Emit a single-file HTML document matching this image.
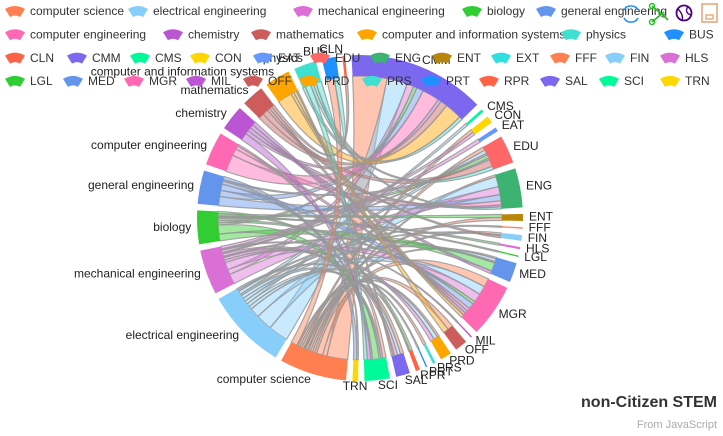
<!DOCTYPE html>
<html><head><meta charset="utf-8">
<style>
html,body{margin:0;padding:0;background:#fff;}
#wrap{position:relative;width:723px;height:436px;overflow:hidden;font-family:"Liberation Sans",sans-serif;}
svg{position:absolute;left:0;top:0;}
</style></head>
<body>
<div id="wrap">
<svg id="chart" width="723" height="436"></svg>
</div>
<script>
// ---- data ----
const categories = ["CMM","CMS","CON","EAT","EDU","ENG","ENT","FFF","FIN","HLS","LGL","MED","MGR","MIL","OFF","PRD","PRS","PRT","RPR","SAL","SCI","TRN","computer science","electrical engineering","mechanical engineering","biology","general engineering","computer engineering","chemistry","mathematics","computer and information systems","physics","BUS","CLN"];
const arcSizes = [49,1,2.5,1.5,10,14,2.5,0.5,2,0.8,0.5,7,19,0.5,4.5,4,1,0.5,1.5,5,9,2,24,29,16,12,12,12,9,8,9,8,5,1];
const flowSource = ["computer science","computer science","computer science","computer science","computer science","computer science","computer science","computer science","computer science","computer science","computer science",
 "electrical engineering","electrical engineering","electrical engineering","electrical engineering","electrical engineering","electrical engineering","electrical engineering","electrical engineering","electrical engineering",
 "mechanical engineering","mechanical engineering","mechanical engineering","mechanical engineering","mechanical engineering","mechanical engineering","mechanical engineering","mechanical engineering",
 "biology","biology","biology","biology","biology","biology","biology",
 "general engineering","general engineering","general engineering","general engineering","general engineering",
 "computer engineering","computer engineering","computer engineering","computer engineering",
 "chemistry","chemistry","chemistry","chemistry","chemistry",
 "mathematics","mathematics","mathematics","mathematics",
 "computer and information systems","computer and information systems","computer and information systems","computer and information systems",
 "physics","physics","physics","physics",
 "computer science","electrical engineering","mechanical engineering","biology","computer science","electrical engineering","mechanical engineering","computer science","electrical engineering","biology","computer science","mechanical engineering","general engineering","computer science","physics","mathematics"];
const flowTarget = ["CMM","SCI","MGR","ENG","EDU","FIN","SAL","TRN","OFF","PRD","MED",
 "CMM","ENG","MGR","PRD","SAL","EDU","MED","SCI","FIN",
 "ENG","CMM","MGR","PRD","SAL","MED","SCI","EDU",
 "MED","SCI","CMM","MGR","EDU","HLS","LGL",
 "ENG","CMM","MGR","SCI","EDU",
 "CMM","ENG","MGR","SAL",
 "SCI","CMM","ENG","MED","MGR",
 "CMM","EDU","FIN","MGR",
 "CMM","MGR","OFF","SAL",
 "CMM","SCI","ENG","EDU",
 "CON","CMS","EAT","ENT","ENT","FFF","MIL","PRS","PRT","RPR","RPR","CON","TRN","BUS","BUS","CLN"];
const flowValue = [10,2,3,1,1,1,1,0.5,1,0.5,0.5,
 6,5,3,1,1,1,1,1,0.5,
 4,2,3,1,1,0.5,1,0.5,
 3,4,1,1,1,0.5,0.5,
 3,2,2,1,0.5,
 5,2,1,0.5,
 2,1,1,1,1,
 2,2,1,1,
 5,1,1,0.5,
 1,2,1,1,
 1,1,1,1,1,0.5,0.5,1,0.5,1,0.5,1,1,3,2,1];
const colors = ['#ff7f50','#87cefa','#da70d6','#32cd32','#6495ed','#ff69b4','#ba55d3','#cd5c5c','#ffa500','#40e0d0','#1e90ff','#ff6347','#7b68ee','#00fa9a','#ffd700','#6699FF','#ff6666','#3cb371','#b8860b','#30e0e0'];
const legendNames = ["computer science","electrical engineering","mechanical engineering","biology","general engineering","computer engineering","chemistry","mathematics","computer and information systems","physics","BUS","CLN","CMM","CMS","CON","EAT","EDU","ENG","ENT","EXT","FFF","FIN","HLS","LGL","MED","MGR","MIL","OFF","PRD","PRS","PRT","RPR","SAL","SCI","TRN"];

// ---- layout ----
const NS="http://www.w3.org/2000/svg";
const svg=document.getElementById('chart');
const cx=360, cy=218, R=163, r=142, startAngle=-3;
function el(tag,attrs,parent){const e=document.createElementNS(NS,tag);for(const k in attrs)e.setAttribute(k,attrs[k]);(parent||svg).appendChild(e);return e;}
function pt(a,rad){const t=a*Math.PI/180;return [cx+rad*Math.sin(t),cy-rad*Math.cos(t)];}
function colorOf(name){return colors[legendNames.indexOf(name)%colors.length];}

const total=arcSizes.reduce((a,b)=>a+b,0);
const gap=(360-total)/categories.length;
const arcs={};
let cur=startAngle;
categories.forEach((c,i)=>{arcs[c]={a0:cur,a1:cur+arcSizes[i],pos:cur};cur+=arcSizes[i]+gap;});
const tot={};
flowValue.forEach((v,i)=>{tot[flowSource[i]]=(tot[flowSource[i]]||0)+v;tot[flowTarget[i]]=(tot[flowTarget[i]]||0)+v;});
function take(name,v){const a=arcs[name];const span=a.a1-a.a0;const w=span*v/tot[name];const s=a.pos;a.pos+=w;return [s,s+w];}

const gChords=el('g',{});


flowValue.forEach((v,i)=>{
  const s=take(flowSource[i],v), t=take(flowTarget[i],v);
  const p0=pt(s[0],r),p1=pt(s[1],r),q0=pt(t[0],r),q1=pt(t[1],r);
  const d=`M${p0[0]},${p0[1]} A${r},${r} 0 0 1 ${p1[0]},${p1[1]} Q${cx},${cy} ${q0[0]},${q0[1]} A${r},${r} 0 0 1 ${q1[0]},${q1[1]} Q${cx},${cy} ${p0[0]},${p0[1]}Z`;
  const p=el('path',{d:d,fill:colorOf(flowSource[i]),'fill-opacity':0.45,stroke:'#999','stroke-opacity':0.85,'stroke-width':1.2},gChords);
  
  
});

const gArcs=el('g',{});
categories.forEach(c=>{
  const a=arcs[c];
  const o0=pt(a.a0,R),o1=pt(a.a1,R),i0=pt(a.a0,r),i1=pt(a.a1,r);
  const large=(a.a1-a.a0)>180?1:0;
  const d=`M${o0[0]},${o0[1]} A${R},${R} 0 ${large} 1 ${o1[0]},${o1[1]} L${i1[0]},${i1[1]} A${r},${r} 0 ${large} 0 ${i0[0]},${i0[1]}Z`;
  const p=el('path',{d:d,fill:colorOf(c)},gArcs);
  
  
  const m=(a.a0+a.a1)/2;const lp=pt(m,R+6);
  const s=Math.sin(m*Math.PI/180);
  const anchor=Math.abs(s)<0.08?'middle':(s>0?'start':'end');
  const t=el('text',{x:lp[0],y:lp[1],'text-anchor':anchor,'dominant-baseline':'middle','font-size':12,fill:'#222','font-family':'Liberation Sans, sans-serif'},gArcs);
  t.textContent=c;
  
  
});

// ---- legend ----
const legendX=[5,128,293,462,536, 5,163,251,357,561,664, 5,67,130,190,253,310,370,432,491,550,605,660, 5,63,124,186,243,299,362,421,479,540,599,660];
const legendRow=[0,0,0,0,0, 1,1,1,1,1,1, 2,2,2,2,2,2,2,2,2,2,2,2, 3,3,3,3,3,3,3,3,3,3,3,3];
const gLeg=el('g',{});
legendNames.forEach((n,i)=>{
  const x=legendX[i], y=12+legendRow[i]*23.3;
  const g=el('g',{transform:`translate(${x},${y})`},gLeg);
  
  
  el('path',{d:'M0,-3 Q10,-9 20,-3 L15,5 Q10,2 5,5Z',fill:colors[i%colors.length]},g);
  const t=el('text',{x:25,y:0,'dominant-baseline':'middle','font-size':12,fill:'#333','font-family':'Liberation Sans, sans-serif'},g);
  t.textContent=n;
});

// ---- toolbox ----
const tb=el('g',{});


const ic1=el('g',{},tb);
el('path',{d:'M624,10 A8,8 0 0 1 638,10 M638,18 A8,8 0 0 1 624,18',fill:'none',stroke:'#1e90ff','stroke-width':1.6},ic1);
const ic2=el('g',{},tb);
el('path',{d:'M652,6 L664,16 M652,22 L664,12 M664,16 L668,20',fill:'none',stroke:'#22bb22','stroke-width':1.6},ic2);
el('circle',{cx:652,cy:6,r:2.5,fill:'none',stroke:'#22bb22','stroke-width':1.4},ic2);
el('circle',{cx:652,cy:22,r:2.5,fill:'none',stroke:'#22bb22','stroke-width':1.4},ic2);
const ic3=el('g',{},tb);
el('circle',{cx:684,cy:13,r:7.5,fill:'none',stroke:'#4b0082','stroke-width':1.8},ic3);
el('path',{d:'M678,9 Q684,15 682,21 M688,6 Q684,13 691,15',fill:'none',stroke:'#4b0082','stroke-width':1.4},ic3);
const ic4=el('g',{},tb);
el('rect',{x:702,y:4,width:15,height:18,fill:'none',stroke:'#e8a87c','stroke-width':1.6},ic4);
el('rect',{x:706,y:15,width:7,height:4,fill:'none',stroke:'#e8a87c','stroke-width':1.4},ic4);

// ---- title ----
const tt=el('text',{x:717,y:407,'text-anchor':'end','font-size':16,'font-weight':'bold',fill:'#333','font-family':'Liberation Sans, sans-serif'});
tt.textContent='non-Citizen STEM';


const st=el('text',{x:717,y:428,'text-anchor':'end','font-size':11,fill:'#aaa','font-family':'Liberation Sans, sans-serif'});
st.textContent='From JavaScript';


</script>
</body></html>
